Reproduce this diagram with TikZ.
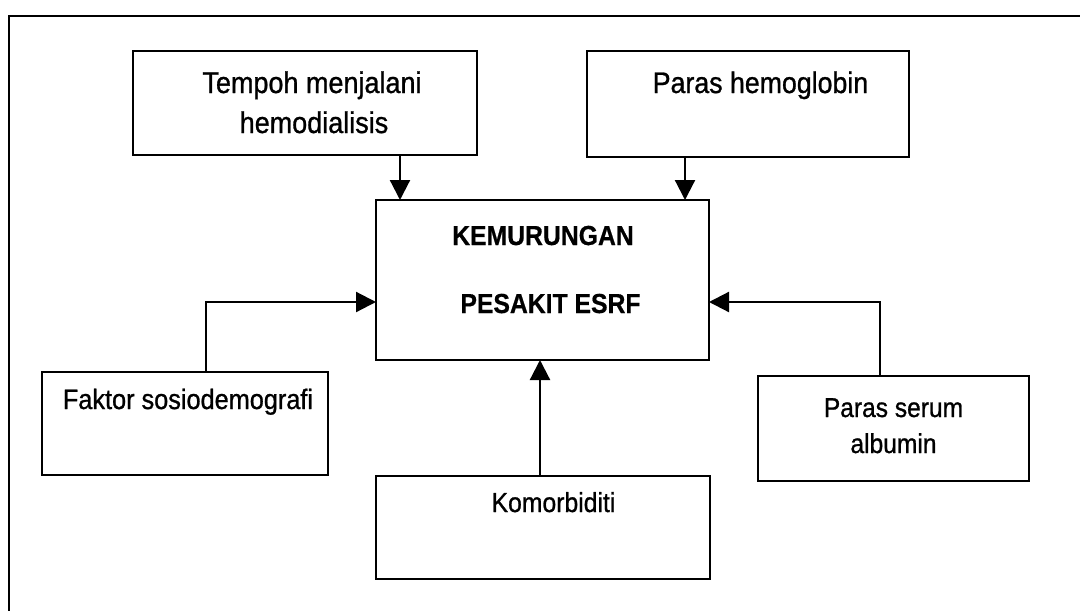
\documentclass[tikz,border=0pt]{standalone}
\usepackage{fontspec}
\setmainfont{Liberation Sans}[FakeStretch=0.9,UprightFeatures={FakeBold=0.9},BoldFeatures={FakeBold=0.6}]
\usetikzlibrary{arrows.meta}
\begin{document}
\begin{tikzpicture}[x=1pt,y=-1pt,
  box/.style={draw=black,line width=2.5pt,rectangle,inner sep=0pt,outer sep=0pt,fill=white},
  lbl/.style={anchor=base,inner sep=0pt,font=\fontsize{#1}{#1}\selectfont},
  blbl/.style={anchor=base,inner sep=0pt,font=\fontsize{#1}{#1}\selectfont\bfseries},
  arr/.style={draw=black,line width=2.2pt,-{Triangle[length=20pt,width=20pt]}}]
\useasboundingbox (0,0) rectangle (1080,611);
% outer frame (only top and left edges visible)
\coordinate (fr1) at (1080,16);
\coordinate (fr2) at (9,16);
\coordinate (fr3) at (9,611);
\draw[line width=2.8pt] (fr1) -- (fr2) -- (fr3);
% boxes
\node[box,minimum width=344pt,minimum height=104pt] (tempoh) at (305,103) {};
\node[box,minimum width=322pt,minimum height=106pt] (hemo) at (748,104) {};
\node[box,minimum width=333pt,minimum height=160pt] (center) at (542.5,280) {};
\node[box,minimum width=286pt,minimum height=103pt] (faktor) at (185,423.5) {};
\node[box,minimum width=271pt,minimum height=105pt] (serum) at (893.5,428.5) {};
\node[box,minimum width=334pt,minimum height=103pt] (komor) at (543,527.5) {};
% texts
\node[lbl=30] (t1) at (312,93) {Tempoh menjalani};
\node[lbl=30] (t2) at (314,133) {hemodialisis};
\node[lbl=29.7] (h1) at (760.5,93) {Paras hemoglobin};
\node[blbl=27.5] (c1) at (543,245) {KEMURUNGAN};
\node[blbl=27.5] (c2) at (550.5,313) {PESAKIT ESRF};
\node[lbl=28.1] (f1) at (188,409) {Faktor sosiodemografi};
\node[lbl=27.5] (ko) at (553.5,512) {Komorbiditi};
\node[lbl=27.3] (s1) at (893.5,417) {Paras serum};
\node[lbl=27.3] (s2) at (893.5,453) {albumin};
% connector guide coordinates
\coordinate (xa) at (400,0);
\coordinate (xb) at (685,0);
\coordinate (xf) at (206,302);
\coordinate (xs) at (880,302);
\coordinate (xk) at (540,0);
% connectors
\draw[arr] (tempoh.south -| xa) -- (center.north -| xa);
\draw[arr] (hemo.south -| xb) -- (center.north -| xb);
\draw[arr] (faktor.north -| xf) |- (center.west |- xf);
\draw[arr] (serum.north -| xs) |- (center.east |- xs);
\draw[arr] (komor.north -| xk) -- (center.south -| xk);
\end{tikzpicture}
\end{document}
